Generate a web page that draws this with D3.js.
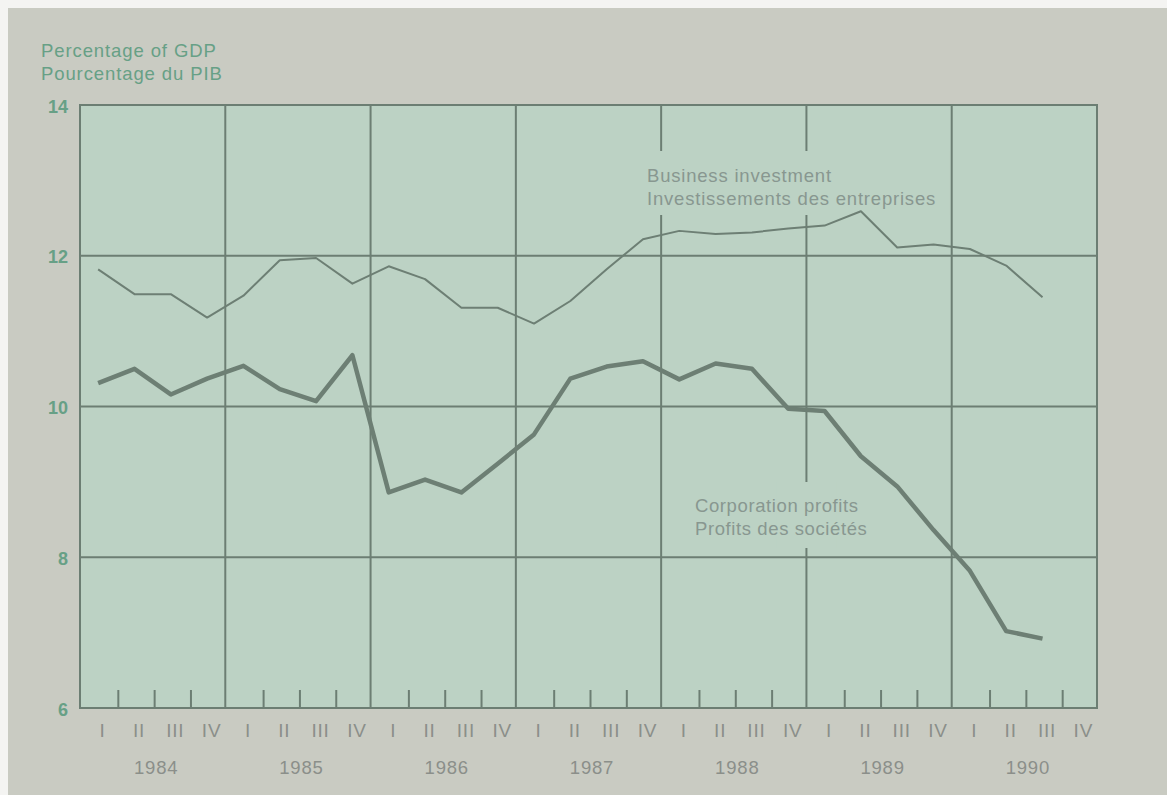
<!DOCTYPE html>
<html><head><meta charset="utf-8">
<script src="https://cdn.jsdelivr.net/npm/d3@7"></script>
<style>
html,body{margin:0;padding:0;background:#ffffff;}
svg{display:block;}
text{font-family:"Liberation Sans",Arial,Helvetica,sans-serif;}
</style></head>
<body>
<svg id="c" width="1167" height="795"></svg>
<script>
// ---- data ----
const years = ["1984","1985","1986","1987","1988","1989","1990"];
const quarters = ["I","II","III","IV"];
const yTicks = [6,8,10,12,14];
const businessInvestment = [11.82,11.49,11.49,11.18, 11.47,11.94,11.97,11.63, 11.86,11.69,11.31,11.31,
  11.10,11.40,11.82,12.22, 12.33,12.29,12.31,12.36, 12.40,12.59,12.11,12.15, 12.09,11.87,11.45];
const corporationProfits = [10.31,10.50,10.16,10.37, 10.54,10.23,10.07,10.68, 8.86,9.03,8.86,9.24,
  9.63,10.37,10.53,10.60, 10.36,10.57,10.50,9.97, 9.94,9.34,8.94,8.36, 7.82,7.02,6.92];
const titleLines = ["Percentage of GDP","Pourcentage du PIB"];
const invLabel = ["Business investment","Investissements des entreprises"];
const profLabel = ["Corporation profits","Profits des sociétés"];

// ---- layout ----
const L=80, R=1097, T=105, B=708;
const svg = d3.select("#c");
const gridCol="#6c7e73", lineCol="#6d7f74", greenTxt="#67a086", greyTxt="#8b8f8a";

svg.append("rect").attr("x",0).attr("y",0).attr("width",1167).attr("height",795).attr("fill","#f4f4f2");
svg.append("rect").attr("x",8).attr("y",8).attr("width",1159).attr("height",787).attr("fill","#c9cbc2");

const nQ = years.length*4;
const x = d3.scaleLinear().domain([0,nQ]).range([L,R]);
const y = d3.scaleLinear().domain([6,14]).range([B,T]);
const plotFill="#bcd2c4";

svg.append("rect").attr("x",L).attr("y",T).attr("width",R-L).attr("height",B-T).attr("fill",plotFill);

// title
svg.append("g").selectAll("text").data(titleLines).join("text")
  .attr("x",41).attr("y",(d,i)=>57+i*23).attr("fill",greenTxt)
  .attr("font-size",18.5).attr("letter-spacing",0.9).text(d=>d);

// horizontal grid lines
const g = svg.append("g");
g.selectAll("line.h").data(yTicks).join("line").attr("class","h")
  .attr("x1",L).attr("x2",R).attr("y1",d=>y(d)).attr("y2",d=>y(d))
  .attr("stroke",gridCol).attr("stroke-width",2);
// vertical year lines
const yearBounds = d3.range(0,years.length+1).map(i=>i*4);
g.selectAll("line.v").data(yearBounds).join("line").attr("class","v")
  .attr("x1",d=>x(d)).attr("x2",d=>x(d)).attr("y1",T).attr("y2",B)
  .attr("stroke",gridCol).attr("stroke-width",2);
// quarter ticks
const qTicks = d3.range(0,nQ).filter(i=>i%4!==0);
g.selectAll("line.q").data(qTicks).join("line").attr("class","q")
  .attr("x1",d=>x(d)+2).attr("x2",d=>x(d)+2).attr("y1",B).attr("y2",B-18)
  .attr("stroke",gridCol).attr("stroke-width",2);

// y axis labels
const yAxis = d3.axisLeft(y).tickValues(yTicks).tickSize(0).tickPadding(12).tickFormat(d3.format("d"));
const ya = svg.append("g").attr("transform",`translate(${L},0)`).call(yAxis);
ya.select(".domain").remove();
ya.selectAll("text").attr("fill",greenTxt).attr("font-size",18).attr("font-weight","bold").attr("dy","0.4em")
  .attr("font-family","'Liberation Sans',Arial,sans-serif");

// quarter labels
const xAxisQ = d3.axisBottom(x).tickValues(d3.range(0,nQ).map(i=>i+0.5)).tickSize(0).tickPadding(0)
  .tickFormat((d)=>quarters[Math.floor(d)%4]);
const xa = svg.append("g").attr("transform",`translate(4,${B})`).call(xAxisQ);
xa.select(".domain").remove();
xa.selectAll("text").attr("fill",greyTxt).attr("font-size",19).attr("letter-spacing",0.8)
  .attr("y",29).attr("dy",0).attr("font-family","'Liberation Sans',Arial,sans-serif");

// year labels
const xAxisY = d3.axisBottom(x).tickValues(years.map((d,i)=>i*4+2)).tickSize(0).tickPadding(0)
  .tickFormat(d=>years[(d-2)/4]);
const xy = svg.append("g").attr("transform",`translate(3,${B})`).call(xAxisY);
xy.select(".domain").remove();
xy.selectAll("text").attr("fill",greyTxt).attr("font-size",18.5).attr("letter-spacing",0.8)
  .attr("y",66).attr("dy",0).attr("font-family","'Liberation Sans',Arial,sans-serif");

// label backgrounds (mask grid behind labels)
svg.append("rect").attr("x",x(15.6)).attr("y",151).attr("width",x(24)-x(15.6)-2).attr("height",64).attr("fill",plotFill);
svg.append("rect").attr("x",x(20)-30).attr("y",482).attr("width",60).attr("height",66).attr("fill",plotFill);

// lines
const line = d3.line().x((d,i)=>x(i+0.5)).y(d=>y(d));
svg.append("path").datum(businessInvestment).attr("d",line).attr("fill","none")
  .attr("stroke",lineCol).attr("stroke-width",2).attr("stroke-linejoin","round");
svg.append("path").datum(corporationProfits).attr("d",line).attr("fill","none")
  .attr("stroke",lineCol).attr("stroke-width",4.5).attr("stroke-linejoin","round");

// border
svg.append("rect").attr("x",L).attr("y",T).attr("width",R-L).attr("height",B-T)
  .attr("fill","none").attr("stroke",gridCol).attr("stroke-width",2);

// series labels
svg.append("g").selectAll("text").data(invLabel).join("text")
  .attr("x",647).attr("y",(d,i)=>182+i*23).attr("fill","#889790")
  .attr("font-size",18.5).attr("letter-spacing",0.8).text(d=>d);
svg.append("g").selectAll("text").data(profLabel).join("text")
  .attr("x",695).attr("y",(d,i)=>512+i*23).attr("fill","#889790")
  .attr("font-size",18.5).attr("letter-spacing",0.6).text(d=>d);
</script>
</body></html>
